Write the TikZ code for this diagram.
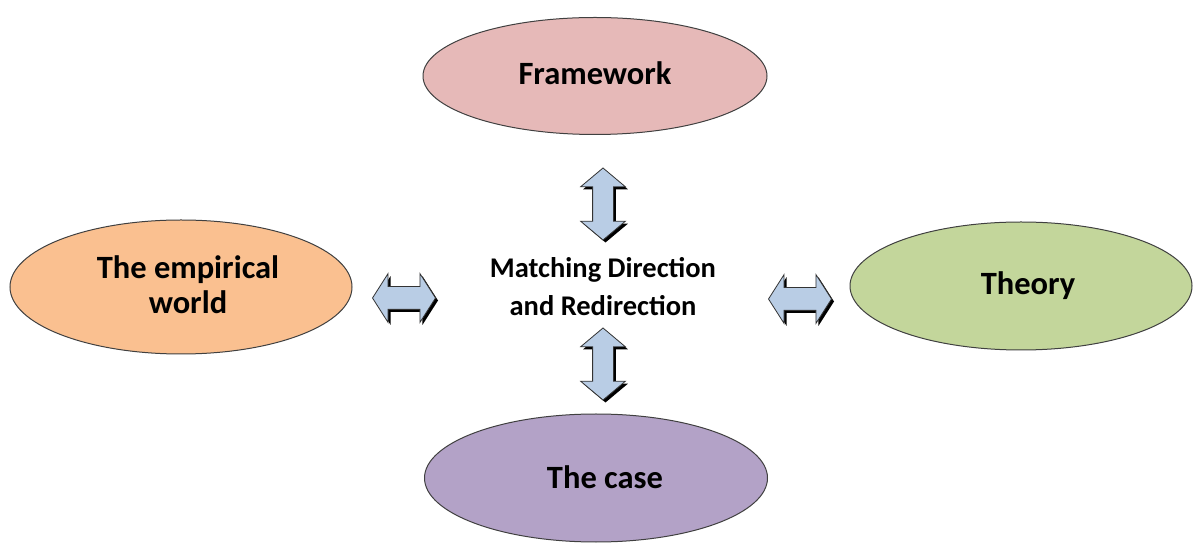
\documentclass[tikz,border=0pt]{standalone}
\usepackage{fontspec}
\setmainfont{Carlito}
\usetikzlibrary{shapes.geometric,shapes.arrows,shadows}
\definecolor{fwfill}{HTML}{E6B9B8}
\definecolor{emfill}{HTML}{FAC090}
\definecolor{thfill}{HTML}{C3D69B}
\definecolor{csfill}{HTML}{B3A2C7}
\definecolor{arfill}{HTML}{B9CDE5}
\definecolor{edge}{HTML}{404040}
\tikzset{
  oval/.style={ellipse, draw=edge, line width=1pt, inner sep=0pt, align=center,
    font=\fontsize{32.5}{35}\selectfont\bfseries},
  dblarrow/.style={double arrow, draw=black!80, line width=0.8pt, fill=arfill,
    inner sep=0pt,
    drop shadow={shadow xshift=2.5pt, shadow yshift=-2.5pt, fill=black, opacity=1}},
  vertarrow/.style={dblarrow, rotate=90, text height=10pt, text depth=10pt,
    minimum height=72pt, double arrow head extend=12pt, double arrow tip angle=100},
  horzarrow/.style={dblarrow, text height=11pt, text depth=11pt,
    minimum height=63pt, double arrow head extend=13pt, double arrow tip angle=115},
  centertext/.style={align=center, font=\fontsize{28.5}{38}\selectfont\bfseries}
}
\begin{document}
\begin{tikzpicture}[x=1pt,y=1pt]
\useasboundingbox[fill=white] (0,0) rectangle (1199,546);
\node[oval, fill=fwfill, minimum width=344pt, minimum height=117pt] (fw) at (595,470) {\raisebox{5pt}{Framework}};
\node[oval, fill=emfill, minimum width=342pt, minimum height=134pt] (em) at (181,259) {\hspace*{14pt}\raisebox{5pt}{The empirical}\\\hspace*{14pt}\raisebox{5pt}{world}};
\node[oval, fill=thfill, minimum width=342pt, minimum height=128pt] (th) at (1021,260) {\hspace*{14pt}Theory};
\node[oval, fill=csfill, minimum width=343pt, minimum height=128pt] (cs) at (596,68) {\hspace*{18pt}\raisebox{2pt}{The case}};
\node[centertext] (mid) at (603,259) {Matching Direction\\and Redirection};
\node[vertarrow] (au) at (603,342) {};
\node[vertarrow] (ad) at (603,182) {};
\node[horzarrow] (al) at (404,248) {};
\node[horzarrow] (ar) at (800,247) {};
\end{tikzpicture}
\end{document}
